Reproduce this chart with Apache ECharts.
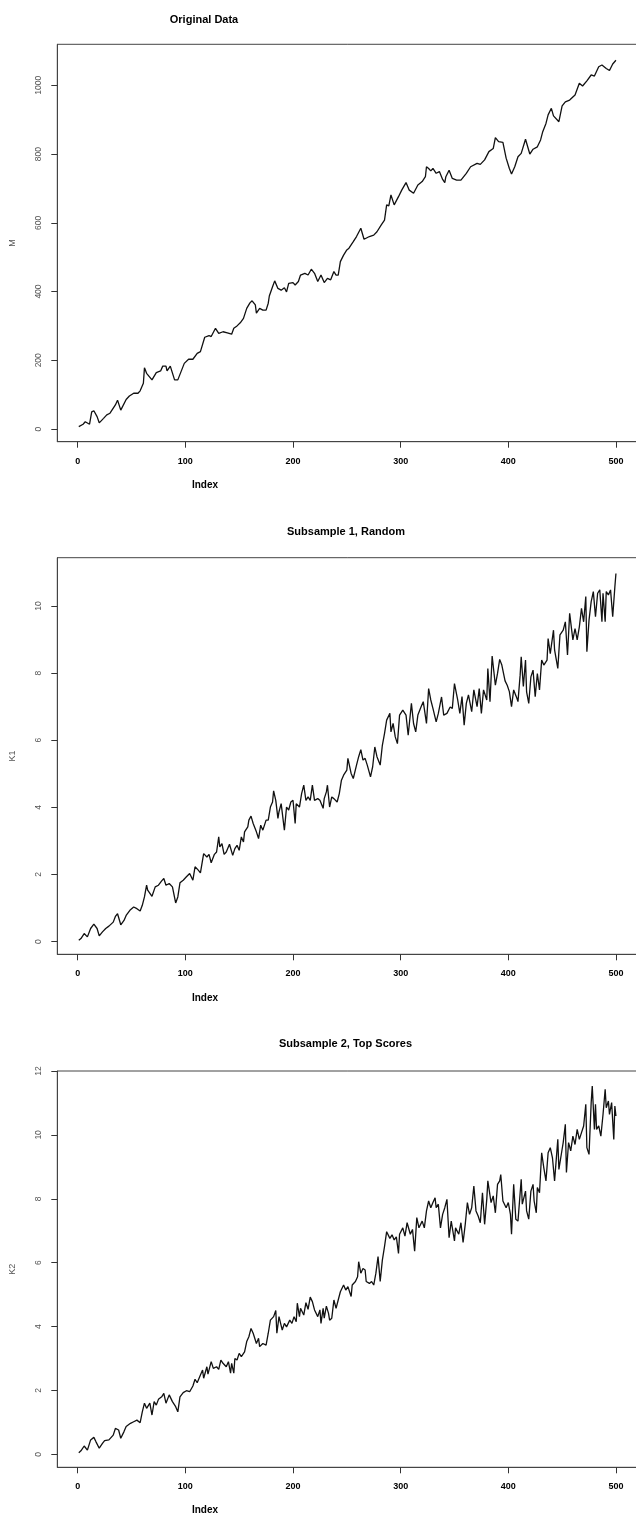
<!DOCTYPE html>
<html>
<head>
<meta charset="utf-8">
<script src="https://cdn.jsdelivr.net/npm/echarts@6/dist/echarts.min.js"></script>
<style>
html, body { margin: 0; padding: 0; background: #fff; }
#main { width: 636px; height: 1517px; }
</style>
</head>
<body>
<div id="main"></div>
<script>
// tick labels and titles
var indexTicks = [0, 100, 200, 300, 400, 500];
var mTicks = [0, 200, 400, 600, 800, 1000];
var k1Ticks = [0, 2, 4, 6, 8, 10];
var k2Ticks = [0, 2, 4, 6, 8, 10, 12];
var titles = ['Original Data', 'Subsample 1, Random', 'Subsample 2, Top Scores'];
var yNames = ['M', 'K1', 'K2'];
var xName = 'Index';

// series values, [index, value]
var mData = [[1,7],[5,14],[7,21],[11,14],[13,50],[15,53],[18,36],[20,18],[24,31],[27,41],[30,46],[35,70],[37,84],[40,55],[45,86],[48,96],[52,104],[56,104],[58,111],[61,133],[62,178],[64,162],[69,143],[73,164],[77,169],[79,183],[82,183],[83,169],[86,183],[90,143],[93,143],[96,167],[99,191],[103,203],[107,203],[111,220],[114,225],[118,267],[122,272],[124,269],[128,293],[131,278],[135,283],[139,280],[143,276],[145,293],[148,300],[151,309],[154,322],[157,351],[160,367],[162,373],[165,361],[166,337],[169,351],[172,346],[175,346],[177,366],[178,387],[181,414],[183,431],[186,409],[189,404],[192,411],[194,399],[196,424],[200,426],[202,419],[205,429],[207,448],[211,453],[214,448],[217,465],[220,453],[223,429],[226,448],[229,426],[232,438],[235,434],[238,458],[240,448],[242,448],[244,487],[247,506],[250,521],[252,526],[256,545],[259,560],[263,584],[266,552],[271,560],[275,564],[278,574],[282,594],[285,608],[287,652],[289,649],[291,681],[294,652],[298,676],[301,695],[305,717],[308,695],[312,686],[316,710],[320,720],[323,734],[324,763],[326,758],[328,751],[330,758],[333,744],[336,749],[339,726],[341,717],[342,734],[345,753],[348,729],[352,724],[356,724],[361,744],[365,763],[371,773],[374,770],[378,783],[382,807],[386,816],[388,848],[391,836],[395,834],[398,788],[401,758],[403,742],[406,763],[409,792],[412,802],[416,843],[420,800],[423,814],[427,821],[430,841],[432,865],[435,889],[437,914],[440,933],[442,911],[447,894],[450,940],[453,952],[457,957],[462,972],[466,1006],[469,998],[473,1013],[477,1030],[480,1027],[484,1054],[487,1059],[491,1049],[494,1043],[497,1062],[500,1073]];

var k1Data = [[1,0.04],[3,0.09],[6,0.24],[9,0.14],[12,0.39],[15,0.52],[18,0.39],[20,0.17],[23,0.29],[26,0.39],[29,0.46],[33,0.58],[35,0.75],[37,0.83],[40,0.5],[43,0.63],[45,0.78],[49,0.95],[52,1.03],[55,0.98],[58,0.91],[60,1.08],[62,1.33],[64,1.68],[65,1.53],[69,1.35],[72,1.63],[75,1.68],[78,1.81],[80,1.88],[82,1.68],[85,1.73],[88,1.63],[91,1.15],[93,1.33],[95,1.75],[98,1.83],[101,1.93],[104,2.03],[107,1.83],[109,2.23],[112,2.13],[114,2.05],[117,2.62],[120,2.52],[122,2.6],[124,2.35],[127,2.6],[129,2.67],[131,3.12],[132,2.82],[134,2.92],[136,2.6],[138,2.67],[141,2.9],[144,2.57],[146,2.77],[148,2.87],[150,2.72],[152,3.12],[154,2.97],[155,3.27],[158,3.42],[159,3.62],[161,3.74],[163,3.52],[166,3.27],[168,3.07],[170,3.47],[172,3.32],[175,3.62],[177,3.62],[179,4.01],[181,4.16],[182,4.49],[184,4.21],[186,3.67],[187,3.87],[189,4.11],[192,3.32],[194,4.01],[196,3.92],[198,4.16],[200,4.21],[202,3.52],[203,4.11],[206,4.01],[208,4.41],[210,4.66],[212,4.21],[214,4.31],[216,4.21],[218,4.66],[220,4.21],[223,4.26],[225,4.21],[228,3.97],[229,4.26],[231,4.46],[232,4.66],[234,4.01],[236,4.31],[238,4.26],[241,4.16],[243,4.41],[245,4.81],[247,4.96],[250,5.11],[251,5.46],[254,5.01],[256,4.86],[259,5.26],[261,5.51],[263,5.72],[265,5.41],[267,5.46],[269,5.26],[272,4.91],[274,5.21],[276,5.8],[278,5.51],[281,5.26],[283,5.85],[285,6.2],[287,6.6],[290,6.8],[291,6.25],[293,6.5],[295,6.1],[297,5.9],[299,6.75],[302,6.9],[305,6.75],[307,6.15],[310,7.1],[312,6.5],[314,6.25],[316,6.75],[319,7.0],[321,7.15],[324,6.5],[326,7.54],[328,7.2],[330,6.95],[333,6.55],[335,6.8],[338,7.29],[340,6.75],[343,6.8],[346,6.99],[348,6.95],[350,7.69],[353,7.2],[355,6.8],[357,7.3],[359,6.45],[361,7.1],[363,7.35],[366,6.85],[368,7.5],[371,7.0],[373,7.54],[375,6.8],[377,7.5],[380,7.2],[381,8.14],[383,7.15],[385,8.51],[388,7.64],[390,7.99],[392,8.41],[394,8.24],[397,7.77],[399,7.64],[401,7.45],[403,7.0],[405,7.5],[408,7.25],[409,7.15],[411,7.94],[412,8.49],[414,7.6],[416,8.39],[417,7.44],[419,7.1],[421,7.89],[423,8.09],[425,7.3],[427,7.99],[429,7.5],[431,8.39],[433,8.24],[436,8.39],[437,9.03],[439,8.58],[442,9.28],[443,8.69],[446,8.14],[448,9.14],[451,9.28],[453,9.53],[455,8.54],[457,9.78],[460,8.99],[462,9.33],[464,8.99],[466,9.38],[468,9.93],[470,9.53],[472,10.28],[473,8.64],[475,9.58],[477,10.13],[479,10.43],[481,9.68],[483,10.38],[485,10.48],[487,9.53],[488,10.38],[490,9.53],[491,10.43],[493,10.33],[495,10.48],[497,9.68],[499,10.57],[500,10.97]];

var k2Data = [[1,0.05],[3,0.11],[6,0.26],[9,0.13],[12,0.45],[15,0.53],[17,0.39],[20,0.19],[23,0.34],[25,0.43],[29,0.45],[33,0.6],[35,0.81],[38,0.76],[40,0.5],[43,0.71],[45,0.87],[49,0.97],[52,1.02],[55,1.07],[58,0.99],[60,1.33],[62,1.6],[64,1.44],[67,1.6],[69,1.23],[71,1.65],[73,1.54],[75,1.72],[78,1.8],[80,1.91],[82,1.6],[85,1.86],[88,1.65],[91,1.49],[93,1.33],[95,1.8],[98,1.93],[101,1.99],[104,1.96],[107,2.14],[109,2.35],[111,2.24],[114,2.48],[116,2.64],[117,2.38],[120,2.74],[121,2.51],[124,2.9],[126,2.69],[129,2.74],[131,2.66],[133,2.95],[135,2.85],[138,2.74],[140,2.9],[142,2.54],[143,2.85],[145,2.54],[146,3.0],[148,2.95],[150,3.16],[152,3.06],[155,3.21],[157,3.53],[159,3.68],[161,3.94],[163,3.79],[166,3.47],[168,3.63],[169,3.37],[172,3.47],[175,3.42],[177,3.79],[179,4.2],[182,4.31],[184,4.5],[185,3.79],[187,4.31],[190,3.89],[192,4.1],[194,3.99],[197,4.2],[199,4.1],[201,4.31],[203,4.15],[204,4.73],[206,4.31],[207,4.57],[210,4.36],[212,4.75],[214,4.54],[216,4.92],[218,4.78],[220,4.52],[223,4.31],[225,4.52],[226,4.1],[228,4.57],[229,4.26],[231,4.64],[233,4.41],[234,4.2],[236,4.26],[238,4.83],[240,4.57],[242,4.83],[244,5.09],[247,5.3],[249,5.14],[251,5.25],[254,4.94],[255,5.3],[258,5.41],[260,5.56],[261,6.03],[263,5.67],[265,5.82],[267,5.77],[268,5.41],[271,5.35],[273,5.41],[275,5.3],[277,5.67],[279,6.19],[281,5.41],[283,6.08],[285,6.5],[287,6.97],[290,6.76],[292,6.87],[294,6.71],[296,6.81],[298,6.29],[299,6.89],[302,7.09],[304,6.83],[306,7.25],[309,6.89],[311,7.04],[313,6.36],[315,7.41],[317,7.09],[320,7.3],[322,7.09],[324,7.62],[326,7.93],[328,7.72],[330,7.88],[332,8.03],[333,7.72],[335,7.83],[337,7.09],[339,7.51],[341,7.72],[343,7.98],[345,6.78],[347,7.3],[350,6.68],[351,7.09],[354,6.89],[356,7.25],[358,6.63],[360,7.2],[362,7.88],[364,7.51],[366,7.72],[368,8.4],[370,7.62],[372,7.46],[374,7.25],[376,8.19],[378,7.2],[380,7.98],[381,8.56],[384,7.88],[386,8.09],[388,7.56],[390,8.45],[392,8.56],[393,8.76],[395,7.93],[398,7.72],[400,7.88],[402,7.51],[403,6.89],[405,8.45],[407,7.36],[409,7.3],[412,8.61],[413,7.83],[416,8.24],[417,7.62],[419,7.36],[421,8.24],[423,8.45],[424,7.93],[426,7.56],[427,8.35],[429,8.19],[431,9.44],[433,8.97],[435,8.56],[437,9.44],[439,9.6],[441,9.29],[443,8.56],[446,9.86],[447,8.92],[450,9.55],[451,9.76],[453,10.33],[454,8.82],[456,9.76],[458,9.5],[460,9.96],[462,9.7],[464,10.17],[466,9.86],[468,10.07],[470,10.28],[472,10.96],[473,9.6],[475,9.39],[477,11.01],[478,11.53],[480,10.17],[481,10.96],[482,10.17],[484,10.28],[486,9.96],[488,10.64],[490,11.43],[491,10.85],[493,11.06],[494,10.64],[496,11.01],[498,9.86],[499,10.9],[500,10.59]];

var chart = echarts.init(document.getElementById('main'));

var FONT = '"Liberation Sans", Arial, sans-serif';
var AXIS_COLOR = '#444';

// panel layout (pixels) and value ranges
var panels = [
    { top: 44.3, height: 397.4, ymin: -36.9, ymax: 1119.3, ticks: mTicks, data: mData,
      titleX: 204, titleY: 20, indexY: 485 },
    { top: 557.7, height: 396.6, ymin: -0.379, ymax: 11.44, ticks: k1Ticks, data: k1Data,
      titleX: 346, titleY: 532, indexY: 998 },
    { top: 1071, height: 396.3, ymin: -0.407, ymax: 12.0, ticks: k2Ticks, data: k2Data,
      titleX: 345.5, titleY: 1044, indexY: 1510.7 }
];

var grids = [], xAxes = [], yAxes = [], series = [], texts = [];

panels.forEach(function (p, i) {
    grids.push({
        left: 57.3,
        width: 581.2,
        top: p.top,
        height: p.height,
        containLabel: false,
        outerBoundsMode: 'none',
        show: true,
        borderColor: AXIS_COLOR,
        borderWidth: 1,
        backgroundColor: 'transparent'
    });
    xAxes.push({
        type: 'value',
        gridIndex: i,
        position: 'bottom',
        min: -18.96,
        max: 520.96,
        axisLine: { show: true, onZero: false, lineStyle: { color: AXIS_COLOR, width: 1 } },
        splitLine: { show: false },
        axisTick: {
            show: true, inside: false, length: 6,
            customValues: indexTicks,
            lineStyle: { color: '#333', width: 1 }
        },
        axisLabel: {
            customValues: indexTicks,
            margin: 15,
            color: '#000',
            fontWeight: 'bold',
            fontSize: 9,
            fontFamily: FONT,
            formatter: function (v) { return String(v); }
        }
    });
    yAxes.push({
        type: 'value',
        gridIndex: i,
        position: 'left',
        min: p.ymin,
        max: p.ymax,
        name: yNames[i],
        nameLocation: 'middle',
        nameGap: 40,
        nameRotate: 90,
        nameTextStyle: { color: '#555', fontSize: 9, fontFamily: FONT },
        axisLine: { show: true, onZero: false, lineStyle: { color: AXIS_COLOR, width: 1 } },
        splitLine: { show: false },
        axisTick: {
            show: true, inside: false, length: 6,
            customValues: p.ticks,
            lineStyle: { color: '#333', width: 1 }
        },
        axisLabel: {
            customValues: p.ticks,
            rotate: 90,
            margin: 14,
            color: '#555',
            fontSize: 8.5,
            fontFamily: FONT,
            formatter: function (v) { return String(v); }
        }
    });
    series.push({
        type: 'line',
        xAxisIndex: i,
        yAxisIndex: i,
        data: p.data,
        showSymbol: false,
        symbol: 'none',
        silent: true,
        lineStyle: { color: '#111', width: 1.3 }
    });
    texts.push({
        type: 'text',
        x: p.titleX,
        y: p.titleY,
        style: {
            text: titles[i],
            fill: '#000',
            font: 'bold 11px ' + FONT,
            align: 'center',
            verticalAlign: 'middle'
        }
    });
    texts.push({
        type: 'text',
        x: 205,
        y: p.indexY,
        style: {
            text: xName,
            fill: '#000',
            font: 'bold 10px ' + FONT,
            align: 'center',
            verticalAlign: 'middle'
        }
    });
});

var option = {
    animation: false,
    backgroundColor: '#fff',
    grid: grids,
    xAxis: xAxes,
    yAxis: yAxes,
    series: series,
    graphic: texts
};

chart.setOption(option);
</script>
</body>
</html>
